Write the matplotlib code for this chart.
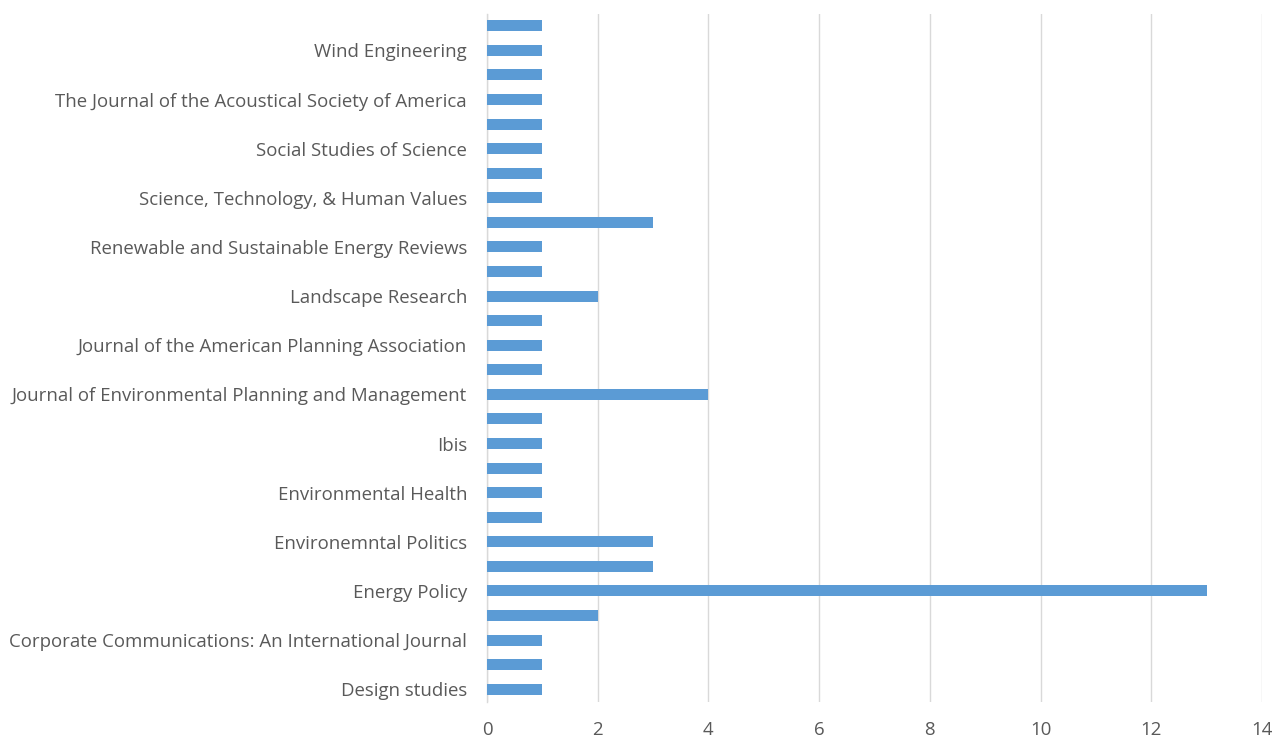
import matplotlib
matplotlib.use("Agg")
import matplotlib.pyplot as plt

# Categories from bottom to top (unlabeled categories shown as empty strings)
categories = [
    "Design studies", "",
    "Corporate Communications: An International Journal", "",
    "Energy Policy", "",
    "Environemntal Politics", "",
    "Environmental Health", "",
    "Ibis", "",
    "Journal of Environmental Planning and Management", "",
    "Journal of the American Planning Association", "",
    "Landscape Research", "",
    "Renewable and Sustainable Energy Reviews", "",
    "Science, Technology, & Human Values", "",
    "Social Studies of Science", "",
    "The Journal of the Acoustical Society of America", "",
    "Wind Engineering", "",
]
values = [1, 1, 1, 2, 13, 3, 3, 1, 1, 1, 1, 1, 4, 1,
          1, 1, 2, 1, 1, 3, 1, 1, 1, 1, 1, 1, 1, 1]
x_ticks = [0, 2, 4, 6, 8, 10, 12, 14]

plt.rcParams['font.family'] = ['Open Sans', 'DejaVu Sans']

fig = plt.figure(figsize=(12.77, 7.40), dpi=100)
ax = fig.add_axes([487/1277, 1 - 701.5/740, (1262-487)/1277, (701.5-13.5)/740])

pos = list(range(len(categories)))
ax.barh(pos, values, height=0.45, color="#5B9BD5", zorder=3)

ax.set_xlim(0, 14)
ax.set_ylim(-0.5, len(categories) - 0.5)
ax.set_xticks(x_ticks)
ax.set_xticklabels([str(t) for t in x_ticks], fontsize=13.4, color="#595959")
ax.set_yticks(pos)
ax.set_yticklabels(categories, fontsize=13.4, color="#595959")
ax.tick_params(axis='both', length=0)
ax.tick_params(axis='y', pad=14.4)
ax.tick_params(axis='x', pad=14)

ax.grid(axis='x', color="#D9D9D9", linewidth=1, zorder=0)
for s in ["top", "right", "bottom"]:
    ax.spines[s].set_visible(False)
ax.spines["left"].set_color("#D9D9D9")
ax.spines["left"].set_linewidth(1)

fig.savefig("out.png", dpi=100, facecolor="white")
